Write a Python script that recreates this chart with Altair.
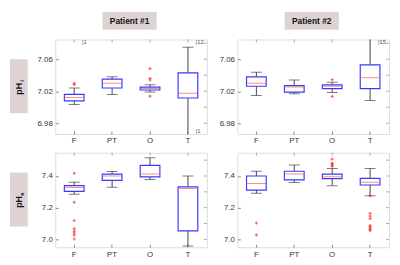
import altair as alt
import pandas as pd

CATS = ["F", "PT", "O", "T"]

# ---- Patient 1, pHi (box statistics)
p1i_lo = [7.0035, 7.016, 7.019, 6.950]
p1i_q1 = [7.008, 7.024, 7.0215, 7.0115]
p1i_med = [7.012, 7.030, 7.0233, 7.0175]
p1i_q3 = [7.016, 7.035, 7.025, 7.043]
p1i_hi = [7.024, 7.038, 7.028, 7.075]
p1i_out_cat = ["F", "F", "O", "O", "O", "O"]
p1i_out_val = [7.0298, 7.0282, 7.0483, 7.036, 7.034, 7.0138]

# ---- Patient 2, pHi
p2i_lo = [7.0147, 7.0167, 7.0184, 7.0085]
p2i_q1 = [7.0262, 7.0188, 7.0233, 7.0233]
p2i_med = [7.0298, 7.0253, 7.0262, 7.0369]
p2i_q3 = [7.038, 7.027, 7.0278, 7.0529]
p2i_hi = [7.0438, 7.0339, 7.0311, 7.095]
p2i_out_cat = ["O", "O"]
p2i_out_val = [7.0344, 7.0135]

# ---- Patient 1, pHe
p1e_lo = [7.285, 7.329, 7.378, 6.958]
p1e_q1 = [7.303, 7.372, 7.394, 7.054]
p1e_med = [7.327, 7.400, 7.412, 7.321]
p1e_q3 = [7.339, 7.412, 7.467, 7.331]
p1e_hi = [7.361, 7.428, 7.515, 7.400]
p1e_out_cat = ["F", "F", "F", "F", "F", "F", "F", "F"]
p1e_out_val = [7.418, 7.234, 7.119, 7.068, 7.052, 7.040, 7.028, 7.002]

# ---- Patient 2, pHe
p2e_lo = [7.291, 7.359, 7.339, 7.275]
p2e_q1 = [7.311, 7.376, 7.384, 7.343]
p2e_med = [7.352, 7.412, 7.396, 7.361]
p2e_q3 = [7.400, 7.430, 7.412, 7.385]
p2e_hi = [7.430, 7.470, 7.448, 7.448]
p2e_out_cat = ["F", "F", "O", "O", "O", "O", "O",
               "T", "T", "T", "T", "T", "T", "T", "T", "T"]
p2e_out_val = [7.103, 7.028, 7.507, 7.480, 7.475, 7.468, 7.460,
               7.275, 7.164, 7.147, 7.131, 7.087, 7.079, 7.070, 7.062, 7.055]

# ---- out-of-range counts annotations
p1i_ann_cat = ["F", "T", "T"]
p1i_ann_val = [7.081, 7.081, 6.970]
p1i_ann_txt = ["|1", "|12", "|1"]
p2i_ann_cat = ["T"]
p2i_ann_val = [7.081]
p2i_ann_txt = ["|15"]

# ---- axes
ticks_i = [6.98, 7.00, 7.02, 7.04, 7.06, 7.08]
ticks_e = [7.0, 7.1, 7.2, 7.3, 7.4, 7.5]
domain_i = [6.9665, 7.0846]
domain_e = [6.95, 7.547]
label_expr_i = "round(datum.value*100) % 4 == 2 ? format(datum.value, '.2f') : ''"
label_expr_e = "round(datum.value*10) % 2 == 0 ? format(datum.value, '.1f') : ''"

PANEL_W = 154
PANEL_H = 96
FONT = "Liberation Sans"


def panel(lo, q1, med, q3, hi, out_cat, out_val, domain, ticks, lexpr,
          title=None, ylab=None, ann=None):
    box = pd.DataFrame({"cat": CATS, "lo": lo, "q1": q1, "med": med, "q3": q3, "hi": hi})
    outs = pd.DataFrame({"cat": out_cat, "val": out_val})
    tdf_ticks = pd.DataFrame({"v": ticks})

    x = alt.X("cat:N", sort=CATS, title=None,
              scale=alt.Scale(paddingInner=0, paddingOuter=0),
              axis=alt.Axis(labelAngle=0, domain=False, offset=-3, tickSize=3,
                            tickColor="#888", labelColor="#333", labelFontSize=8,
                            labelFont=FONT, labelPadding=3))
    yscale = alt.Scale(domain=domain, nice=False, zero=False)
    yaxis = alt.Axis(values=ticks, labelExpr=lexpr, title=None, domain=False,
                     offset=-3, tickSize=3, tickColor="#888", labelColor="#333",
                     labelFontSize=8, labelFont=FONT, labelPadding=3, grid=False)

    base = alt.Chart(box).encode(x=x)
    whisk = base.mark_rule(color="#444", strokeWidth=1, clip=True).encode(
        y=alt.Y("lo:Q", scale=yscale, axis=yaxis), y2="hi:Q")
    cap_lo = base.mark_tick(size=11, thickness=1, color="#444", clip=True).encode(
        y=alt.Y("lo:Q", scale=yscale))
    cap_hi = base.mark_tick(size=11, thickness=1, color="#444", clip=True).encode(
        y=alt.Y("hi:Q", scale=yscale))
    boxes = base.mark_bar(size=20, fill="white", stroke="#3a3aff", strokeWidth=1.2,
                          clip=True).encode(y=alt.Y("q1:Q", scale=yscale), y2="q3:Q")
    meds = base.mark_tick(size=20, thickness=1, color="#ff5a5a", clip=True).encode(
        y=alt.Y("med:Q", scale=yscale))
    pts = alt.Chart(outs).mark_point(shape="cross", filled=True, size=9,
                                     color="#ff2020", clip=True).encode(
        x=alt.X("cat:N", sort=CATS), y=alt.Y("val:Q", scale=yscale))
    # mirror ticks on top and right edges (MATLAB-style box)
    top_ticks = base.mark_tick(orient="vertical", size=3, thickness=1,
                               color="#888").encode(y=alt.value(1.5))
    right_ticks = alt.Chart(tdf_ticks).mark_tick(orient="horizontal", size=3, thickness=1,
                                                 color="#888").encode(
        x=alt.value(PANEL_W - 1.5), y=alt.Y("v:Q", scale=yscale))
    layers = [whisk, cap_lo, cap_hi, boxes, meds, pts, top_ticks, right_ticks]

    if ann is not None:
        adf = pd.DataFrame({"cat": ann[0], "val": ann[1], "txt": ann[2]})
        layers.append(alt.Chart(adf).mark_text(align="left", baseline="middle", dx=8,
                                               fontSize=6, color="#555", font=FONT).encode(
            x=alt.X("cat:N", sort=CATS), y=alt.Y("val:Q", scale=yscale), text="txt:N"))

    if title is not None:
        tdf = pd.DataFrame({"t": [title]})
        layers.append(alt.Chart(tdf).mark_rect(color="#ddd3d3").encode(
            x=alt.value(48), x2=alt.value(103), y=alt.value(-28), y2=alt.value(-10)))
        layers.append(alt.Chart(tdf).mark_text(fontSize=8.5, fontWeight="bold",
                                               color="#111", font=FONT).encode(
            x=alt.value(75.5), y=alt.value(-19), text="t:N"))

    if ylab is not None:
        ldf = pd.DataFrame({"t": ["pH"], "s": [ylab]})
        layers.append(alt.Chart(ldf).mark_rect(color="#ddd3d3").encode(
            x=alt.value(-46), x2=alt.value(-28), y=alt.value(20), y2=alt.value(75)))
        layers.append(alt.Chart(ldf).mark_text(fontSize=9, fontWeight="bold", angle=270,
                                               color="#111", font=FONT).encode(
            x=alt.value(-37), y=alt.value(50), text="t:N"))
        layers.append(alt.Chart(ldf).mark_text(fontSize=6, fontWeight="bold", angle=270,
                                               color="#111", font=FONT).encode(
            x=alt.value(-33.5), y=alt.value(42), text="s:N"))

    return alt.layer(*layers).properties(width=PANEL_W, height=PANEL_H)


a = panel(p1i_lo, p1i_q1, p1i_med, p1i_q3, p1i_hi, p1i_out_cat, p1i_out_val,
          domain_i, ticks_i, label_expr_i, title="Patient #1", ylab="i",
          ann=(p1i_ann_cat, p1i_ann_val, p1i_ann_txt))
b = panel(p2i_lo, p2i_q1, p2i_med, p2i_q3, p2i_hi, p2i_out_cat, p2i_out_val,
          domain_i, ticks_i, label_expr_i, title="Patient #2",
          ann=(p2i_ann_cat, p2i_ann_val, p2i_ann_txt))
c = panel(p1e_lo, p1e_q1, p1e_med, p1e_q3, p1e_hi, p1e_out_cat, p1e_out_val,
          domain_e, ticks_e, label_expr_e, ylab="e")
d = panel(p2e_lo, p2e_q1, p2e_med, p2e_q3, p2e_hi, p2e_out_cat, p2e_out_val,
          domain_e, ticks_e, label_expr_e)

chart = alt.concat(a, b, c, d, columns=2, spacing={"row": 6, "column": 10}).properties(
    padding={"left": 1, "top": 1, "right": 2, "bottom": 2}
).configure_view(stroke="#999", strokeWidth=1).configure(background="white")

chart.save("out.html", embed_options={"renderer": "svg", "actions": False})
